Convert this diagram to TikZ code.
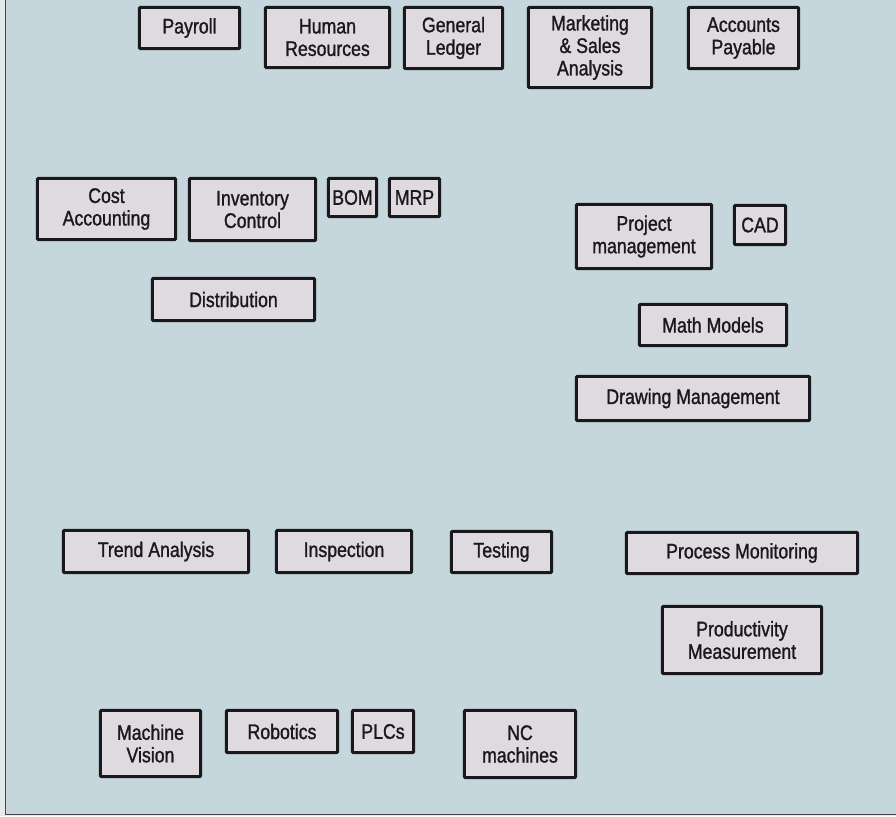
\documentclass[tikz,border=0pt]{standalone}
\usepackage{fontspec}
\setmainfont{Liberation Sans}[FakeStretch=0.84, BoldFont=Liberation Sans, BoldFeatures={FakeBold=1.2}]
\definecolor{paper}{RGB}{197,215,221}
\definecolor{margin}{RGB}{228,233,233}
\definecolor{boxgray}{RGB}{222,218,223}
\definecolor{ink}{RGB}{25,25,28}
\tikzset{
  app/.style={draw=ink, fill=boxgray, line width=2.1pt, rounded corners=0.6pt, align=center, text=ink, inner sep=0pt, font=\fontsize{15}{16}\selectfont\bfseries},
  sz/.style 2 args={minimum width=#1*0.25mm-0.7mm, minimum height=#2*0.25mm-0.7mm},
  edge/.style={draw=ink!80, line width=0.6pt},
}

\begin{document}
\begin{tikzpicture}[x=0.25mm, y=-0.25mm]
  \useasboundingbox (0,0) rectangle (896,816);
  % page and its edges
  \fill[margin] (0,0) rectangle (896,816);
  \fill[paper] (5,0) rectangle (896,814);
  \coordinate (tl) at (5,0); \coordinate (bl) at (5,814); \coordinate (br) at (896,814);
  \draw[edge] (tl) -- (bl) -- (br);

  % business row
  \node[app, sz={103}{44}] (payroll) at (189.5,28) {Payroll};
  \node[app, sz={127}{63}] (hr) at (327.5,37.5) {Human\\Resources};
  \node[app, sz={101}{64}] (gl) at (453.5,38) {General\\Ledger};
  \node[app, sz={126}{83}] (msa) at (590,47.5) {Marketing\\\& Sales\\Analysis};
  \node[app, sz={113}{64}] (ap) at (743.5,38) {Accounts\\Payable};

  % planning
  \node[app, sz={141}{64}] (cost) at (106.5,209) {Cost\\Accounting};
  \node[app, sz={129}{65}] (inv) at (252.5,209.5) {Inventory\\Control};
  \node[app, sz={51}{41}] (bom) at (352.5,197.5) {BOM};
  \node[app, sz={53}{41}] (mrp) at (414.5,197.5) {MRP};
  \node[app, sz={165}{45}] (dist) at (233.5,299.5) {Distribution};

  % engineering
  \node[app, sz={138}{67}] (proj) at (644,236.5) {Project\\management};
  \node[app, sz={54}{42}] (cad) at (760,225) {CAD};
  \node[app, sz={150}{44}] (math) at (713,325) {Math Models};
  \node[app, sz={236}{47}] (draw) at (693,398.5) {Drawing Management};

  % quality
  \node[app, sz={188}{45}] (trend) at (156,551.5) {Trend Analysis};
  \node[app, sz={138}{45}] (insp) at (344,551.5) {Inspection};
  \node[app, sz={103}{44}] (test) at (501.5,552) {Testing};
  \node[app, sz={234}{44}] (proc) at (742,553) {Process Monitoring};
  \node[app, sz={162}{70}] (prod) at (742,640) {Productivity\\Measurement};

  % shop floor
  \node[app, sz={103}{69}] (vision) at (150.5,743.5) {Machine\\Vision};
  \node[app, sz={114}{45}] (robot) at (282,731.5) {Robotics};
  \node[app, sz={64}{45}] (plc) at (383,731.5) {PLCs};
  \node[app, sz={114}{70}] (nc) at (520,744) {NC\\machines};
\end{tikzpicture}
\end{document}
